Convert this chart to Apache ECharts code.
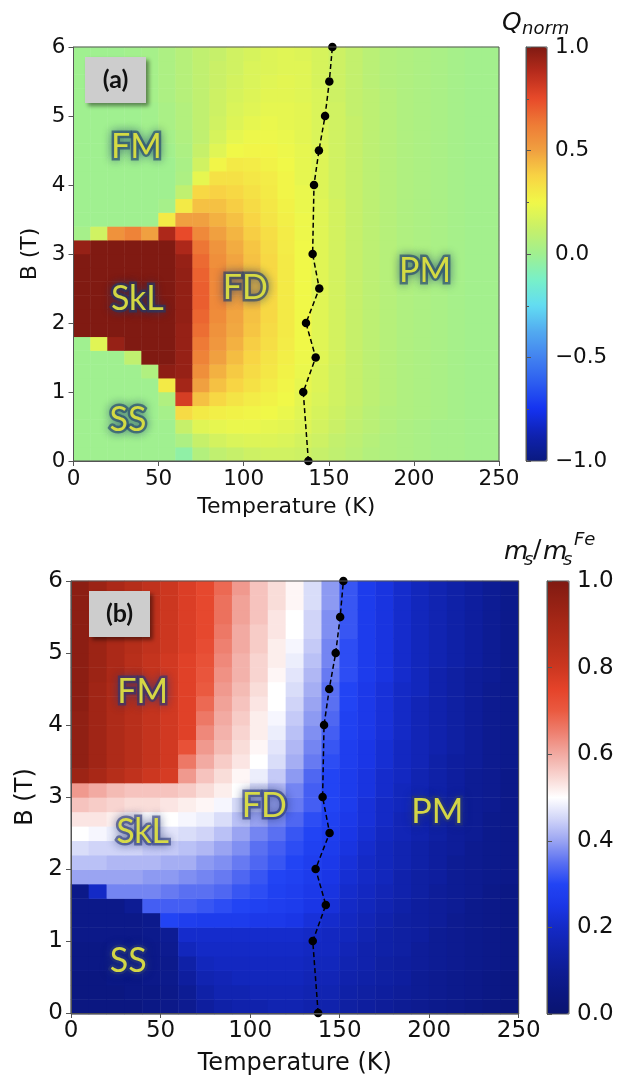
<!DOCTYPE html>
<html><head><meta charset="utf-8">
<script src="https://cdn.jsdelivr.net/npm/echarts@6/dist/echarts.min.js"></script>
<style>html,body{margin:0;padding:0;background:#fff}#c{width:626px;height:1077px}</style>
</head><body><div id="c"></div>
<script>
// ---------- DATA ----------
const T_CELLS = [5,15,25,35,45,55,65,75,85,95,105,115,125,135,145,155,165,175,185,195,205,215,225,235,245];
const B_CELLS = [0.1,0.3,0.5,0.7,0.9,1.1,1.3,1.5,1.7,1.9,2.1,2.3,2.5,2.7,2.9,3.1,3.3,3.5,3.7,3.9,4.1,4.3,4.5,4.7,4.9,5.1,5.3,5.5,5.7,5.9];

// Panel (a): Q_norm, one row per B cell (bottom to top), one value per T cell
const QNORM = [
[0,0,0,0,0,0,-0.05,0.06,0.1,0.12,0.14,0.15,0.15,0.14,0.12,0.1,0.08,0.06,0.05,0.04,0.03,0.02,0.02,0.01,0.01],
[0,0,0,0,0,0,0.04,0.12,0.16,0.18,0.19,0.19,0.18,0.16,0.14,0.11,0.09,0.07,0.05,0.04,0.03,0.02,0.02,0.01,0.01],
[0,0,0,0,0,0,0.12,0.2,0.22,0.23,0.23,0.22,0.21,0.19,0.16,0.13,0.1,0.08,0.06,0.04,0.03,0.02,0.02,0.01,0.01],
[0,0,0,0,0,0.02,0.35,0.3,0.28,0.27,0.26,0.25,0.23,0.2,0.17,0.14,0.11,0.08,0.06,0.05,0.04,0.03,0.02,0.01,0.01],
[0,0,0,0,0,0.05,0.8,0.42,0.36,0.32,0.29,0.27,0.25,0.21,0.18,0.15,0.12,0.09,0.07,0.05,0.04,0.03,0.02,0.01,0.01],
[0,0,0,0,0,0.3,0.92,0.5,0.42,0.37,0.33,0.29,0.26,0.22,0.19,0.15,0.12,0.09,0.07,0.05,0.04,0.03,0.02,0.01,0.01],
[0,0,0,0,0.05,0.97,0.95,0.56,0.46,0.4,0.35,0.31,0.27,0.23,0.19,0.15,0.12,0.09,0.07,0.05,0.04,0.03,0.02,0.01,0.01],
[0,0,0,0.1,1,1,0.95,0.6,0.5,0.43,0.37,0.32,0.28,0.24,0.2,0.16,0.12,0.09,0.07,0.05,0.04,0.03,0.02,0.01,0.01],
[0,0.2,0.95,1,1,1,0.95,0.63,0.53,0.46,0.39,0.34,0.29,0.25,0.2,0.16,0.12,0.09,0.07,0.05,0.04,0.03,0.02,0.01,0.01],
[1,1,1,1,1,1,0.95,0.66,0.55,0.48,0.41,0.35,0.3,0.25,0.2,0.16,0.12,0.09,0.07,0.05,0.04,0.03,0.02,0.01,0.01],
[1,1,1,1,1,1,0.96,0.68,0.57,0.49,0.42,0.36,0.3,0.25,0.2,0.16,0.12,0.09,0.07,0.05,0.04,0.03,0.02,0.01,0.01],
[1,1,1,1,1,1,0.96,0.7,0.58,0.5,0.43,0.36,0.3,0.25,0.2,0.16,0.12,0.09,0.07,0.05,0.04,0.03,0.02,0.01,0.01],
[1,1,1,1,1,1,0.96,0.7,0.58,0.5,0.43,0.36,0.3,0.25,0.2,0.16,0.12,0.09,0.07,0.05,0.04,0.03,0.02,0.01,0.01],
[1,1,1,1,1,1,0.96,0.69,0.58,0.5,0.43,0.36,0.3,0.25,0.2,0.16,0.12,0.09,0.07,0.05,0.04,0.03,0.02,0.01,0.01],
[1,1,1,1,1,1,0.95,0.67,0.56,0.49,0.42,0.36,0.3,0.25,0.2,0.16,0.12,0.09,0.07,0.05,0.04,0.03,0.02,0.01,0.01],
[0.95,1,1,1,1,1,0.9,0.64,0.54,0.47,0.41,0.35,0.29,0.25,0.2,0.16,0.12,0.09,0.07,0.05,0.04,0.03,0.02,0.01,0.01],
[0.02,0.15,0.55,0.6,0.5,0.9,0.75,0.58,0.5,0.45,0.39,0.34,0.29,0.24,0.2,0.16,0.12,0.09,0.07,0.05,0.04,0.03,0.02,0.01,0.01],
[0,0,0,0,0,0.3,0.5,0.5,0.46,0.42,0.37,0.32,0.28,0.24,0.2,0.16,0.12,0.09,0.07,0.05,0.04,0.03,0.02,0.01,0.01],
[0,0,0,0,0,0.02,0.3,0.42,0.42,0.39,0.35,0.31,0.27,0.23,0.2,0.16,0.12,0.09,0.07,0.05,0.04,0.03,0.02,0.01,0.01],
[0,0,0,0,0,0,0.1,0.36,0.38,0.36,0.33,0.3,0.26,0.23,0.19,0.15,0.12,0.09,0.07,0.05,0.04,0.03,0.02,0.01,0.01],
[0,0,0,0,0,0,0.04,0.22,0.33,0.33,0.31,0.29,0.26,0.22,0.19,0.15,0.12,0.09,0.07,0.05,0.04,0.03,0.02,0.01,0.01],
[0,0,0,0,0,0,0.03,0.15,0.26,0.3,0.29,0.27,0.25,0.22,0.19,0.15,0.12,0.09,0.07,0.05,0.04,0.03,0.02,0.01,0.01],
[0,0,0,0,0,0.01,0.04,0.12,0.2,0.25,0.26,0.26,0.24,0.22,0.19,0.15,0.12,0.09,0.07,0.05,0.04,0.03,0.02,0.01,0.01],
[0,0,0,0,0,0.02,0.05,0.1,0.17,0.22,0.24,0.24,0.23,0.21,0.18,0.15,0.12,0.09,0.07,0.05,0.04,0.03,0.02,0.01,0.01],
[0,0,0,0,0.01,0.03,0.06,0.1,0.15,0.19,0.22,0.23,0.22,0.21,0.18,0.15,0.12,0.09,0.07,0.05,0.04,0.03,0.02,0.01,0.01],
[0,0,0,0,0.01,0.03,0.06,0.1,0.14,0.18,0.2,0.22,0.22,0.21,0.18,0.15,0.11,0.09,0.07,0.05,0.04,0.03,0.02,0.01,0.01],
[0,0,0,0,0.02,0.04,0.07,0.1,0.14,0.17,0.19,0.21,0.21,0.2,0.18,0.14,0.11,0.09,0.07,0.05,0.04,0.03,0.02,0.01,0.01],
[0,0,0,0.01,0.02,0.04,0.07,0.1,0.13,0.16,0.18,0.2,0.21,0.2,0.17,0.14,0.11,0.08,0.06,0.05,0.04,0.03,0.02,0.01,0.01],
[0,0,0,0.01,0.02,0.04,0.07,0.1,0.13,0.15,0.18,0.19,0.2,0.2,0.17,0.14,0.11,0.08,0.06,0.05,0.04,0.03,0.02,0.01,0.01],
[0,0,0,0.01,0.02,0.04,0.07,0.1,0.12,0.15,0.17,0.19,0.2,0.19,0.17,0.14,0.11,0.08,0.06,0.05,0.04,0.03,0.02,0.01,0.01]
];

// Panel (b): m_s / m_s^Fe, one row per B cell (bottom to top)
const MS_RATIO = [
[0.05,0.05,0.05,0.05,0.06,0.07,0.09,0.12,0.14,0.15,0.15,0.16,0.16,0.15,0.15,0.13,0.12,0.11,0.1,0.09,0.08,0.07,0.06,0.05,0.04],
[0.05,0.05,0.05,0.06,0.06,0.07,0.1,0.14,0.16,0.16,0.17,0.17,0.17,0.16,0.16,0.14,0.13,0.12,0.11,0.1,0.09,0.08,0.07,0.06,0.05],
[0.05,0.05,0.06,0.06,0.07,0.08,0.12,0.16,0.17,0.18,0.18,0.18,0.18,0.17,0.17,0.15,0.14,0.13,0.12,0.1,0.09,0.08,0.07,0.06,0.05],
[0.06,0.06,0.06,0.07,0.07,0.08,0.14,0.18,0.19,0.19,0.19,0.19,0.19,0.18,0.18,0.16,0.15,0.13,0.12,0.11,0.1,0.09,0.08,0.07,0.06],
[0.06,0.06,0.07,0.07,0.07,0.09,0.18,0.2,0.2,0.2,0.2,0.2,0.2,0.19,0.19,0.17,0.15,0.14,0.13,0.11,0.1,0.09,0.08,0.07,0.06],
[0.07,0.07,0.07,0.07,0.08,0.1,0.21,0.21,0.21,0.21,0.21,0.21,0.21,0.2,0.19,0.18,0.16,0.14,0.13,0.12,0.1,0.09,0.08,0.07,0.06],
[0.07,0.07,0.07,0.07,0.08,0.3,0.28,0.27,0.27,0.27,0.26,0.26,0.25,0.23,0.21,0.19,0.17,0.15,0.13,0.12,0.11,0.09,0.08,0.07,0.06],
[0.07,0.07,0.07,0.1,0.33,0.33,0.33,0.32,0.31,0.3,0.29,0.28,0.27,0.25,0.23,0.2,0.18,0.16,0.14,0.12,0.11,0.1,0.08,0.07,0.06],
[0.07,0.2,0.37,0.37,0.37,0.36,0.35,0.35,0.34,0.32,0.31,0.29,0.28,0.26,0.24,0.21,0.19,0.17,0.15,0.13,0.11,0.1,0.09,0.07,0.06],
[0.4,0.4,0.4,0.4,0.39,0.39,0.38,0.37,0.36,0.34,0.32,0.3,0.29,0.27,0.25,0.22,0.2,0.18,0.15,0.13,0.12,0.1,0.09,0.08,0.07],
[0.43,0.43,0.42,0.42,0.42,0.41,0.41,0.39,0.38,0.36,0.34,0.32,0.3,0.28,0.26,0.23,0.2,0.18,0.16,0.14,0.12,0.1,0.09,0.08,0.07],
[0.46,0.45,0.45,0.45,0.44,0.44,0.43,0.42,0.4,0.38,0.35,0.33,0.31,0.29,0.27,0.24,0.21,0.18,0.16,0.14,0.12,0.11,0.09,0.08,0.07],
[0.5,0.49,0.48,0.48,0.47,0.47,0.46,0.45,0.43,0.4,0.37,0.35,0.32,0.3,0.28,0.25,0.22,0.19,0.17,0.15,0.13,0.11,0.1,0.08,0.07],
[0.53,0.53,0.52,0.51,0.5,0.5,0.49,0.48,0.46,0.43,0.4,0.37,0.34,0.31,0.29,0.26,0.23,0.2,0.17,0.15,0.13,0.11,0.1,0.08,0.07],
[0.57,0.56,0.55,0.54,0.54,0.53,0.52,0.51,0.49,0.46,0.43,0.4,0.36,0.33,0.3,0.27,0.23,0.2,0.18,0.15,0.13,0.12,0.1,0.09,0.07],
[0.62,0.6,0.58,0.57,0.57,0.57,0.56,0.54,0.52,0.5,0.46,0.42,0.37,0.33,0.3,0.27,0.24,0.21,0.18,0.16,0.14,0.12,0.1,0.09,0.07],
[0.93,0.9,0.86,0.83,0.8,0.78,0.62,0.57,0.54,0.51,0.48,0.44,0.39,0.34,0.3,0.27,0.24,0.21,0.19,0.16,0.14,0.12,0.1,0.09,0.07],
[0.96,0.92,0.88,0.85,0.82,0.79,0.66,0.6,0.56,0.53,0.5,0.46,0.41,0.36,0.31,0.28,0.25,0.22,0.19,0.17,0.14,0.12,0.11,0.09,0.08],
[0.96,0.92,0.88,0.85,0.82,0.79,0.72,0.62,0.58,0.54,0.51,0.47,0.42,0.37,0.32,0.28,0.25,0.22,0.19,0.17,0.15,0.13,0.11,0.09,0.08],
[0.96,0.92,0.88,0.85,0.82,0.79,0.76,0.64,0.59,0.55,0.52,0.48,0.43,0.38,0.33,0.29,0.26,0.23,0.2,0.17,0.15,0.13,0.11,0.09,0.08],
[0.96,0.92,0.88,0.85,0.82,0.79,0.76,0.66,0.6,0.56,0.52,0.49,0.44,0.39,0.34,0.29,0.26,0.23,0.2,0.17,0.15,0.13,0.11,0.09,0.08],
[0.97,0.92,0.88,0.85,0.82,0.79,0.76,0.68,0.61,0.57,0.53,0.5,0.45,0.4,0.35,0.3,0.26,0.23,0.2,0.17,0.15,0.13,0.11,0.09,0.08],
[0.97,0.92,0.88,0.85,0.82,0.79,0.76,0.7,0.62,0.58,0.54,0.5,0.46,0.41,0.35,0.3,0.26,0.23,0.2,0.18,0.15,0.13,0.11,0.09,0.08],
[0.97,0.93,0.89,0.85,0.82,0.79,0.76,0.71,0.63,0.59,0.55,0.51,0.47,0.42,0.36,0.31,0.27,0.24,0.21,0.18,0.15,0.13,0.11,0.1,0.08],
[0.97,0.93,0.89,0.85,0.82,0.79,0.76,0.72,0.64,0.59,0.55,0.52,0.48,0.43,0.37,0.31,0.27,0.24,0.21,0.18,0.16,0.14,0.12,0.1,0.08],
[0.97,0.93,0.89,0.86,0.83,0.8,0.77,0.73,0.65,0.6,0.56,0.52,0.49,0.44,0.37,0.31,0.27,0.24,0.21,0.18,0.16,0.14,0.12,0.1,0.08],
[0.97,0.93,0.89,0.86,0.83,0.8,0.77,0.74,0.66,0.6,0.56,0.53,0.5,0.45,0.38,0.32,0.27,0.24,0.21,0.18,0.16,0.14,0.12,0.1,0.08],
[0.97,0.93,0.89,0.86,0.83,0.8,0.77,0.74,0.67,0.61,0.57,0.53,0.5,0.45,0.38,0.32,0.27,0.24,0.21,0.18,0.16,0.14,0.12,0.1,0.08],
[0.97,0.93,0.89,0.86,0.83,0.8,0.77,0.74,0.67,0.61,0.57,0.54,0.51,0.46,0.39,0.32,0.27,0.24,0.21,0.18,0.16,0.14,0.12,0.1,0.08],
[0.97,0.93,0.89,0.86,0.83,0.8,0.77,0.74,0.68,0.62,0.57,0.54,0.51,0.46,0.39,0.32,0.27,0.24,0.21,0.18,0.16,0.14,0.12,0.1,0.08]
];

// Boundary (dashed line with dots)
const BOUNDARY_B = [0, 1, 1.5, 2, 2.5, 3, 4, 4.5, 5, 5.5, 6];
const BOUNDARY_T = [138, 135, 142.3, 136.6, 144.4, 140.5, 141.3, 144.2, 147.8, 150.3, 152.1];

// Phase labels
const PHASE_NAMES = ['FM', 'SkL', 'FD', 'SS', 'PM'];
const PHASE_T_A = [37, 37.5, 101, 32, 206.5];
const PHASE_B_A = [4.55, 2.35, 2.5, 0.6, 2.75];
const PHASE_T_B = [40, 40, 108, 32, 204.5];
const PHASE_B_B = [4.46, 2.52, 2.87, 0.72, 2.79];

// Axis ranges / ticks
const T_RANGE = [0, 250], T_STEP = 50;
const B_RANGE = [0, 6], B_STEP = 1;
const QCB_RANGE = [-1, 1], QCB_STEP = 0.5;
const MCB_RANGE = [0, 1], MCB_STEP = 0.2;

// ---------- STYLE / LAYOUT ----------
const GA = {left: 73.5, top: 47, width: 425.5, height: 414};
const GB = {left: 71, top: 581, width: 447.7, height: 433};
const CBA = {left: 526, top: 47, width: 21, height: 414};
const CBB = {left: 547, top: 581, width: 22, height: 433};
const AX = '#555', TXT = '#111', FONT = 'DejaVu Sans';

const Q_COLORS = ['#0a1a80','#0f22b0','#1432f0','#2c5cf0','#4282f0','#52aaf0','#62dcf2','#78f0c8','#a0f090','#c8f068','#f0f848','#f8d444','#f0a040','#ee7c36','#e84a2a','#b82c1c','#801a12'];
const M_COLORS = ['#0a1470','#0b1781','#0d1c94','#1022ac','#142ac6','#1a36e6','#2244f4','#5a70f2','#9aa4f2','#d0d4f8','#ffffff','#f8d4d0','#f2aaa2','#ee8070','#ea5a40','#e5432a','#cc3720','#b82f1b','#a82817','#942114','#801a12'];

function cells(grid) {
  const out = [];
  grid.forEach((row, i) => row.forEach((v, j) => out.push([j, i, v])));
  return out;
}
function pts(ts, bs) { return ts.map((t, i) => [t, bs[i]]); }
function phaseData(ts, bs) { return PHASE_NAMES.map((n, i) => ({name: n, value: [ts[i], bs[i]]})); }
const fmt1 = v => (Math.round(v * 10) / 10).toFixed(1).replace('-', '\u2212');

function catAxes(gi) {
  return [
    {type: 'category', gridIndex: gi, data: T_CELLS, show: false},
    {type: 'category', gridIndex: gi, data: B_CELLS, show: false}
  ];
}
function valX(gi, fs, nfs, gap) {
  return {type: 'value', gridIndex: gi, min: T_RANGE[0], max: T_RANGE[1], interval: T_STEP, z: 10,
    axisLine: {show: true, onZero: false, lineStyle: {color: AX, width: 1}},
    axisTick: {show: true, inside: false, length: 5, lineStyle: {color: AX}},
    axisLabel: {fontSize: fs, color: TXT, fontFamily: FONT, margin: 7},
    splitLine: {show: false},
    name: 'Temperature (K)', nameLocation: 'middle', nameGap: gap,
    nameTextStyle: {fontSize: nfs, color: TXT, fontFamily: FONT}};
}
function valY(gi, fs, nfs, gap) {
  return {type: 'value', gridIndex: gi, min: B_RANGE[0], max: B_RANGE[1], interval: B_STEP, z: 10,
    axisLine: {show: true, onZero: false, lineStyle: {color: AX, width: 1}},
    axisTick: {show: true, inside: false, length: 5, lineStyle: {color: AX}},
    axisLabel: {fontSize: fs, color: TXT, fontFamily: FONT, margin: 8},
    splitLine: {show: false},
    name: 'B (T)', nameLocation: 'middle', nameGap: gap, nameRotate: 90,
    nameTextStyle: {fontSize: nfs, color: TXT, fontFamily: FONT}};
}
function cbY(gi, range, step, fs, minor) {
  return {type: 'value', gridIndex: gi, position: 'right', min: range[0], max: range[1], interval: step, z: 10,
    axisLine: {show: true, lineStyle: {color: AX, width: 1}},
    axisTick: {show: true, inside: false, length: 5, lineStyle: {color: AX}},
    minorTick: {show: minor, splitNumber: 2, length: 3, lineStyle: {color: AX}},
    axisLabel: {fontSize: fs, color: TXT, fontFamily: FONT, margin: 8, formatter: fmt1},
    splitLine: {show: false}, minorSplitLine: {show: false}};
}
function lineSeries(xi, yi) {
  return {type: 'line', xAxisIndex: xi, yAxisIndex: yi, data: pts(BOUNDARY_T, BOUNDARY_B), z: 5,
    symbol: 'circle', symbolSize: 8.5, clip: true,
    lineStyle: {color: '#000', width: 1.5, type: [5, 3]}, itemStyle: {color: '#000'}};
}
// glow layer (dark, blurred) + yellow text layer
function labelSeries(xi, yi, ts, bs, glow) {
  const base = {type: 'scatter', xAxisIndex: xi, yAxisIndex: yi, data: phaseData(ts, bs),
    symbolSize: 1, itemStyle: {color: 'rgba(0,0,0,0)'}, silent: true};
  return [
    Object.assign({}, base, {z: 6, label: {show: true, position: 'inside', formatter: p => p.name,
      fontFamily: 'Lato', fontSize: 34, color: glow, textBorderColor: glow, textBorderWidth: 5,
      textShadowColor: glow, textShadowBlur: 10}}),
    Object.assign({}, base, {z: 7, label: {show: true, position: 'inside', formatter: p => p.name,
      fontFamily: 'Lato', fontSize: 34, color: '#ffff3a'}})
  ];
}
function tagBox(x, y, t) {
  return [
    {type: 'rect', z: 50, shape: {x: x, y: y, width: 61, height: 46},
      style: {fill: '#cdcdcd', shadowBlur: 4, shadowOffsetX: 3, shadowOffsetY: 3, shadowColor: 'rgba(0,0,0,0.45)'}},
    {type: 'text', z: 51, x: x + 30.5, y: y + 23,
      style: {text: t, font: 'bold 25px Lato', fill: '#111', textAlign: 'center', textVerticalAlign: 'middle'}}
  ];
}
function frame(g) {
  return {type: 'rect', z: 40, silent: true, shape: {x: g.left, y: g.top, width: g.width, height: g.height},
    style: {fill: null, stroke: AX, lineWidth: 1}};
}
function txt(t, x, y, size, italic) {
  return {type: 'text', z: 50, x: x, y: y,
    style: {text: t, font: (italic ? 'italic ' : '') + size + 'px ' + FONT, fill: TXT, textAlign: 'left', textVerticalAlign: 'middle'}};
}

const chart = echarts.init(document.getElementById('c'), null, {renderer: 'canvas'});
const cat0 = catAxes(0), cat2 = catAxes(2);
chart.setOption({
  animation: false,
  backgroundColor: '#fff',
  grid: [
    Object.assign({}, GA), Object.assign({}, GA),
    Object.assign({}, GB), Object.assign({}, GB),
    Object.assign({}, CBA), Object.assign({}, CBB)
  ],
  xAxis: [cat0[0], valX(1, 21.5, 22, 35), cat2[0], valX(3, 23, 24, 39),
    {type: 'value', gridIndex: 4, show: false}, {type: 'value', gridIndex: 5, show: false}],
  yAxis: [cat0[1], valY(1, 21.5, 22, 25), cat2[1], valY(3, 23, 24, 33),
    cbY(4, QCB_RANGE, QCB_STEP, 21.5, true), cbY(5, MCB_RANGE, MCB_STEP, 23, false)],
  visualMap: [
    {type: 'continuous', seriesIndex: 0, min: -1, max: 1, calculable: false, hoverLink: false, orient: 'vertical',
      left: CBA.left, top: CBA.top, itemWidth: CBA.width, itemHeight: CBA.height, padding: 0, text: null,
      inRange: {color: Q_COLORS}},
    {type: 'continuous', seriesIndex: 1, min: 0, max: 1, calculable: false, hoverLink: false, orient: 'vertical',
      left: CBB.left, top: CBB.top, itemWidth: CBB.width, itemHeight: CBB.height, padding: 0, text: null,
      inRange: {color: M_COLORS}}
  ],
  series: [
    {type: 'heatmap', xAxisIndex: 0, yAxisIndex: 0, data: cells(QNORM), itemStyle: {borderWidth: 0}},
    {type: 'heatmap', xAxisIndex: 2, yAxisIndex: 2, data: cells(MS_RATIO), itemStyle: {borderWidth: 0}},
    lineSeries(1, 1), lineSeries(3, 3)
  ].concat(
    labelSeries(1, 1, PHASE_T_A, PHASE_B_A, 'rgba(30,60,110,0.75)'),
    labelSeries(3, 3, PHASE_T_B, PHASE_B_B, 'rgba(40,55,120,0.75)')
  ),
  graphic: [
    frame(GA), frame(GB), frame(CBA), frame(CBB)
  ].concat(tagBox(85, 57, '(a)'), tagBox(89, 591, '(b)'), [
    txt('Q', 502, 23, 25, true), txt('norm', 522, 29, 18, true),
    txt('m', 504, 552, 25, true), txt('s', 524, 560, 18, true), txt('/', 533, 550, 25, false),
    txt('m', 543, 552, 25, true), txt('s', 563, 560, 18, true), txt('Fe', 574, 540, 18, true)
  ])
});
</script>
</body></html>
